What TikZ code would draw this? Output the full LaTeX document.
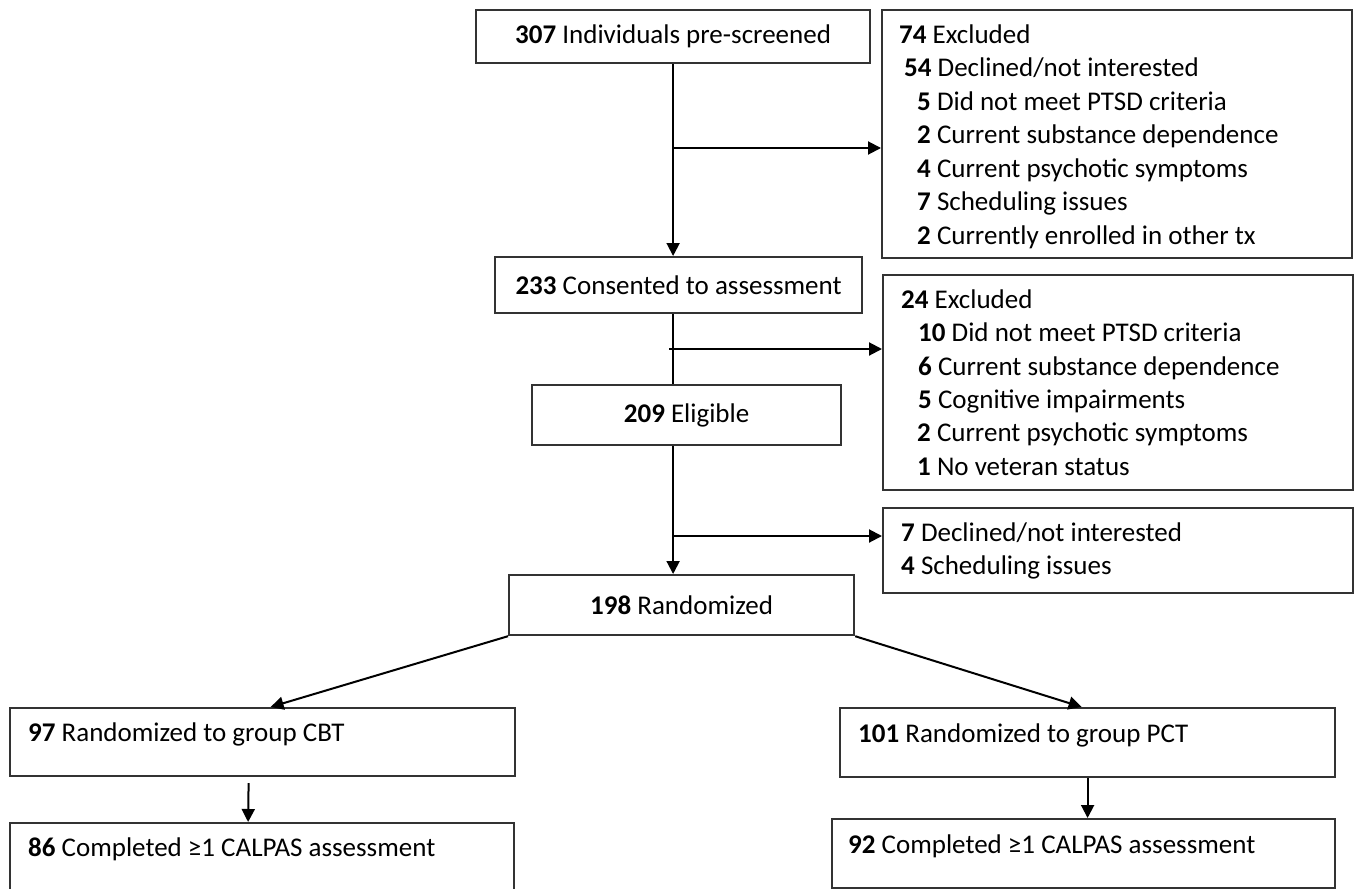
\documentclass[tikz,border=0pt]{standalone}
\usepackage{fontspec}
\setmainfont{Carlito}
\usetikzlibrary{arrows.meta}
\definecolor{boxc}{HTML}{333333}
\begin{document}
\begin{tikzpicture}[x=1pt,y=-1pt,
  every node/.style={font=\fontsize{27}{33.5}\selectfont},
  box/.style={draw=boxc, line width=2.2pt, inner sep=0pt, anchor=north west},
  lbl/.style={inner sep=0pt, anchor=base west},
  conn/.style={line width=2pt, draw=black},
  arr/.style={conn, -{Triangle[length=13pt,width=13pt]}}
]
\useasboundingbox (0,0) rectangle (1356,888);
\clip (0,0) rectangle (1356,888);

% main column
\node[box, minimum width=394pt, minimum height=53pt] (b307) at (475,9) {\textbf{307} Individuals pre-screened};
\node[box, minimum width=367pt, minimum height=56pt] (b233) at (494,256) {\textbf{233} Consented to assessment};
\node[box, minimum width=309pt, minimum height=60pt] (b209) at (531,384) {\textbf{209} Eligible};
\node[box, minimum width=345pt, minimum height=60pt] (b198) at (508,574) {\textbf{198} Randomized};

% exclusion boxes
\node[box, minimum width=470pt, minimum height=248pt] (ex1) at (881,9) {};
\node[lbl] (ex1a) at (899,43.3) {\textbf{74} Excluded};
\node[lbl] (ex1b) at (904,76.8) {\textbf{54} Declined/not interested};
\node[lbl] (ex1c) at (917,110.3) {\textbf{5} Did not meet PTSD criteria};
\node[lbl] (ex1d) at (917,143.8) {\textbf{2} Current substance dependence};
\node[lbl] (ex1e) at (917,177.3) {\textbf{4} Current psychotic symptoms};
\node[lbl] (ex1f) at (917,210.8) {\textbf{7} Scheduling issues};
\node[lbl] (ex1g) at (917,244.3) {\textbf{2} Currently enrolled in other tx};

\node[box, minimum width=470pt, minimum height=215pt] (ex2) at (882,274) {};
\node[lbl] (ex2a) at (901,308.3) {\textbf{24} Excluded};
\node[lbl] (ex2b) at (918,341.7) {\textbf{10} Did not meet PTSD criteria};
\node[lbl] (ex2c) at (918,375) {\textbf{6} Current substance dependence};
\node[lbl] (ex2d) at (918,408.5) {\textbf{5} Cognitive impairments};
\node[lbl] (ex2e) at (917,441.8) {\textbf{2} Current psychotic symptoms};
\node[lbl] (ex2f) at (917,475.2) {\textbf{1} No veteran status};

\node[box, minimum width=470pt, minimum height=85pt] (ex3) at (882,507) {};
\node[lbl] (ex3a) at (901,541.7) {\textbf{7} Declined/not interested};
\node[lbl] (ex3b) at (901,574.3) {\textbf{4} Scheduling issues};

% bottom boxes
\node[box, minimum width=505pt, minimum height=68pt] (b97) at (9,707) {};
\node[lbl] (b97t) at (28,741.7) {\textbf{97} Randomized to group CBT};
\node[box, minimum width=504pt, minimum height=100pt] (b86) at (9,822) {};
\node[lbl] (b86t) at (28,856.7) {\textbf{86} Completed ≥1 CALPAS assessment};
\node[box, minimum width=495pt, minimum height=69pt] (b101) at (839,707) {};
\node[lbl] (b101t) at (858,742) {\textbf{101} Randomized to group PCT};
\node[box, minimum width=503pt, minimum height=69pt] (b92) at (831,818) {};
\node[lbl] (b92t) at (848,853) {\textbf{92} Completed ≥1 CALPAS assessment};

% connectors
\coordinate (br1) at (672,148);
\coordinate (br2) at (669,349);
\coordinate (br3) at (672,536);
\draw[arr] (b307.south) -- (b307.south |- b233.north);
\draw[arr] (br1) -- (br1 -| ex1.west);
\draw[conn] (b233.south -| b307.south) -- (b209.north -| b307.south);
\draw[arr] (br2) -- (br2 -| ex2.west);
\draw[arr] (b209.south -| b307.south) -- (b198.north -| b307.south);
\draw[arr] (br3) -- (br3 -| ex3.west);

\draw[arr] (b198.south west) -- ([xshift=8pt]b97.north);
\draw[arr] (b198.south east) -- ([xshift=-6pt]b101.north);
\draw[arr] ([xshift=-14pt,yshift=-6pt]b97.south) -- ([xshift=-14pt]b86.north);
\draw[arr] (b101.south) -- (b101.south |- b92.north);
\end{tikzpicture}
\end{document}
